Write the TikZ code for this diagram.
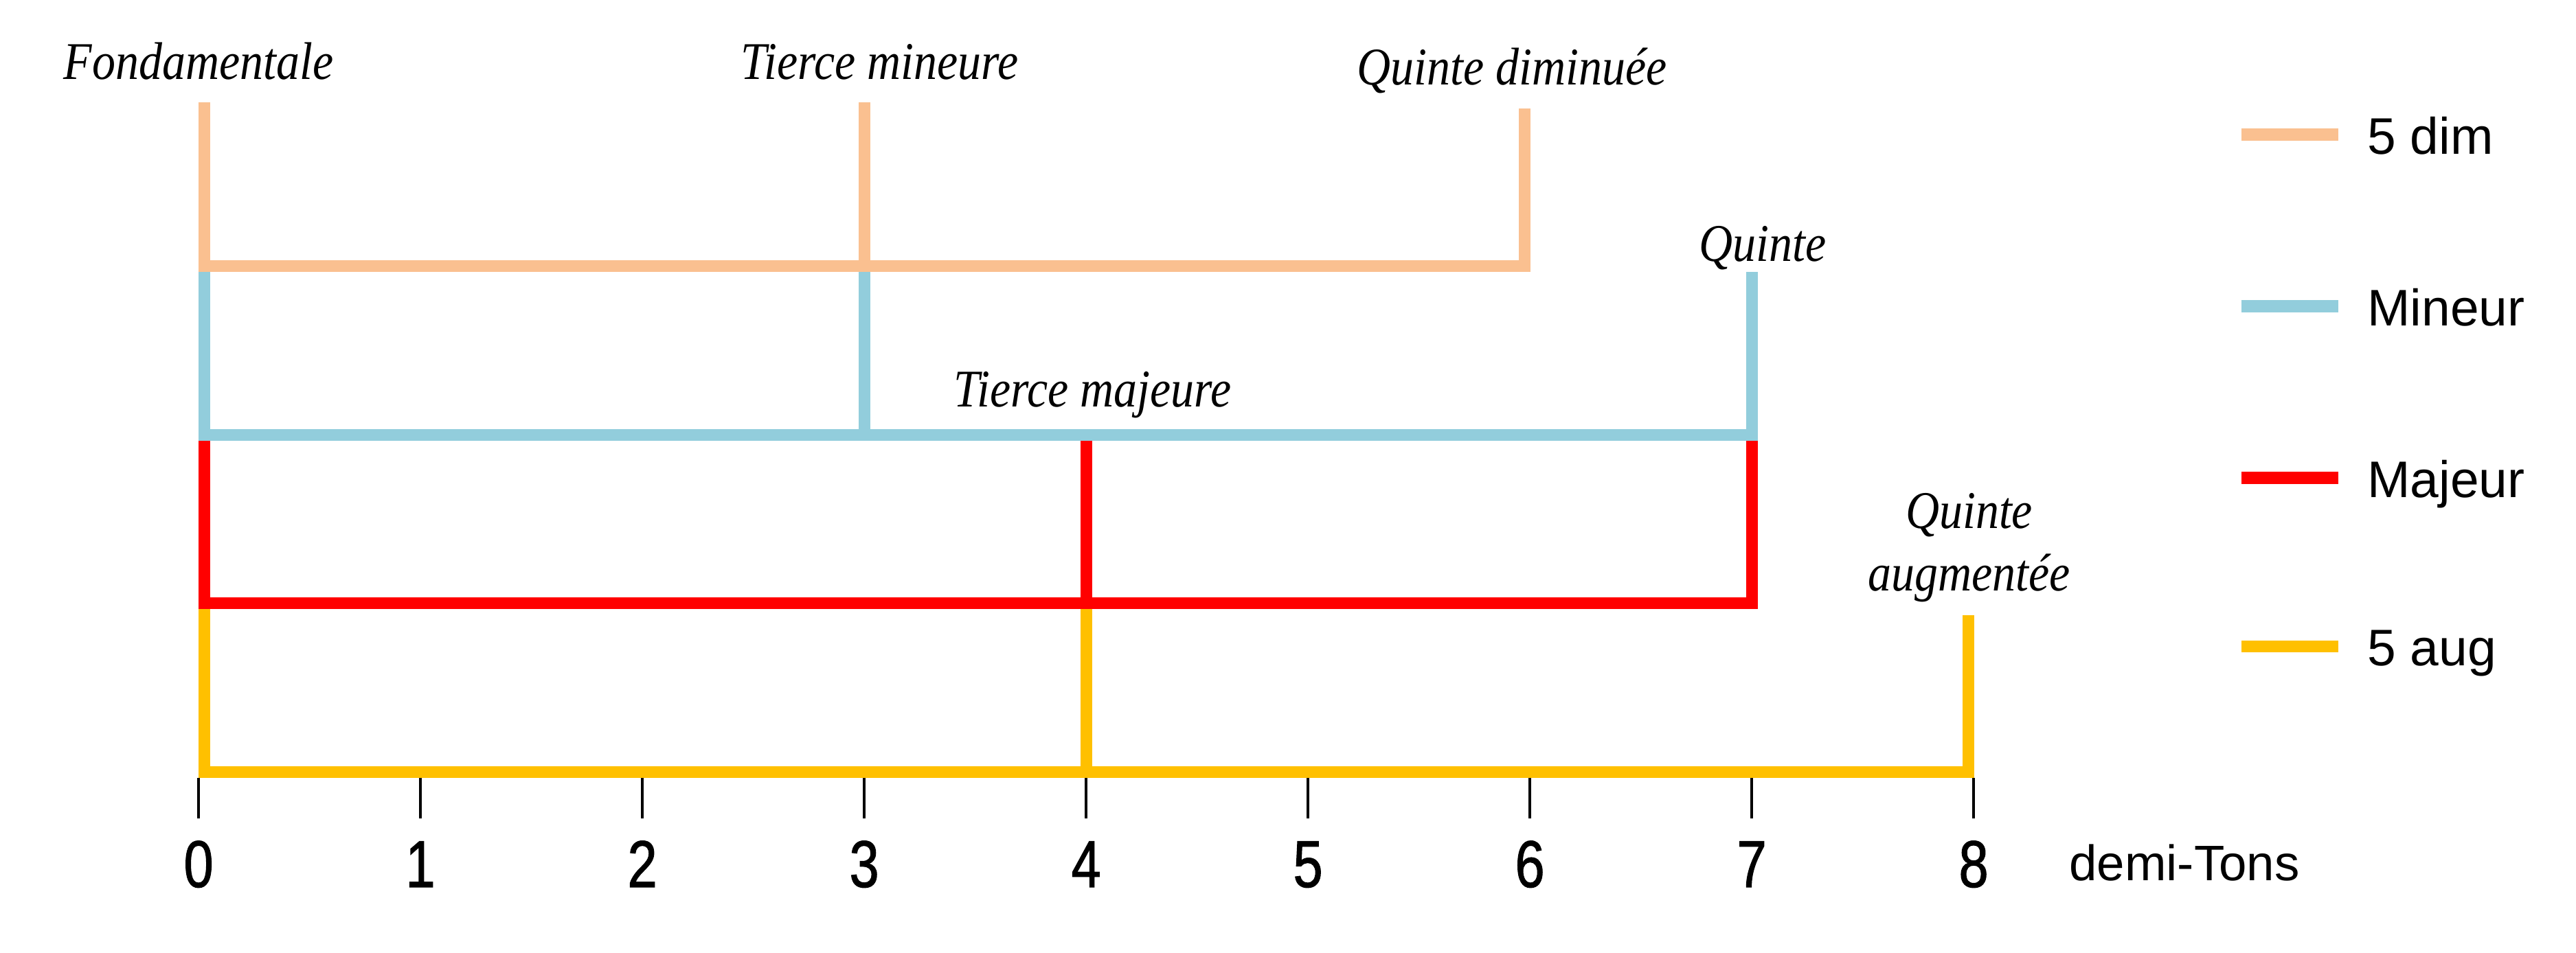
\documentclass[tikz,border=0pt]{standalone}
\usepackage{fontspec}
\setsansfont{Liberation Sans}
\newfontfamily\etiqfont[FakeStretch=0.88]{Liberation Serif}
\newfontfamily\chiffrefont[FakeStretch=0.8,FakeBold=1.2]{Liberation Sans}
\usepackage{tikz}

\definecolor{dimcol}{RGB}{250,192,144}
\definecolor{mincol}{RGB}{146,205,220}
\definecolor{majcol}{RGB}{255,0,0}
\definecolor{augcol}{RGB}{255,192,0}

\tikzset{
    accord/.style={line width=1.5pt},
    intervalle/.style={font=\etiqfont\fontsize{6.8}{8}\selectfont\itshape, anchor=base, align=center, inner sep=0pt},
    legende/.style={font=\fontsize{6.6}{8}\selectfont\sffamily, anchor=base west, inner sep=0pt},
}

\begin{document}
\begin{tikzpicture}
            \useasboundingbox (-0.895,-0.814) rectangle (10.715,3.483);
            % accords
            \draw[accord,dimcol] (0.025,3.02) -- (0.025,2.282) -- (5.975,2.282) -- (5.975,2.994);
            \draw[accord,dimcol] (3,2.282) -- (3,3.02);
            \draw[accord,mincol] (0.025,2.257) -- (0.025,1.523) -- (7,1.523) -- (7,2.257);
            \draw[accord,mincol] (3,1.523) -- (3,2.257);
            \draw[accord,majcol] (0.025,1.495) -- (0.025,0.762) -- (7,0.762) -- (7,1.495);
            \draw[accord,majcol] (4,0.762) -- (4,1.495);
            \draw[accord,augcol] (0.025,0.737) -- (0.025,0) -- (7.975,0) -- (7.975,0.709);
            \draw[accord,augcol] (4,0) -- (4,0.737);
            % axe des demi-tons
            \foreach \x in {0,...,8}
                \draw[line width=0.3pt] (\x,-0.026) -- (\x,-0.207) node[anchor=base, inner sep=0pt, font=\chiffrefont\fontsize{8.5}{10}\selectfont, yshift=-0.31cm] (t\x) {\x};
            \node[anchor=base, inner sep=0pt, font=\fontsize{6.4}{8}\selectfont\sffamily] (tons) at (8.95,-0.489) {demi-Tons};
            % intervalles
            \node[intervalle] (fonda) at (0,3.124) {Fondamentale};
            \node[intervalle] (tmin) at (3.07,3.124) {Tierce mineure};
            \node[intervalle] (qdim) at (5.92,3.10) {Quinte diminuée};
            \node[intervalle] (quinte) at (7.05,2.306) {Quinte};
            \node[intervalle] (tmaj) at (4.03,1.65) {Tierce majeure};
            \node[intervalle] (qaug) at (7.98,0.82) {Quinte\\augmentée};
            % legende
            \foreach \c/\t/\y [count=\i] in {dimcol/5 dim/2.876, mincol/Mineur/2.102, majcol/Majeur/1.328, augcol/5 aug/0.567}{
                \draw[accord,\c] (9.207,\y) -- (9.644,\y);
                \node[legende] (leg\i) at (9.768,\y-0.087) {\t};
            }
        \end{tikzpicture}
\end{document}
